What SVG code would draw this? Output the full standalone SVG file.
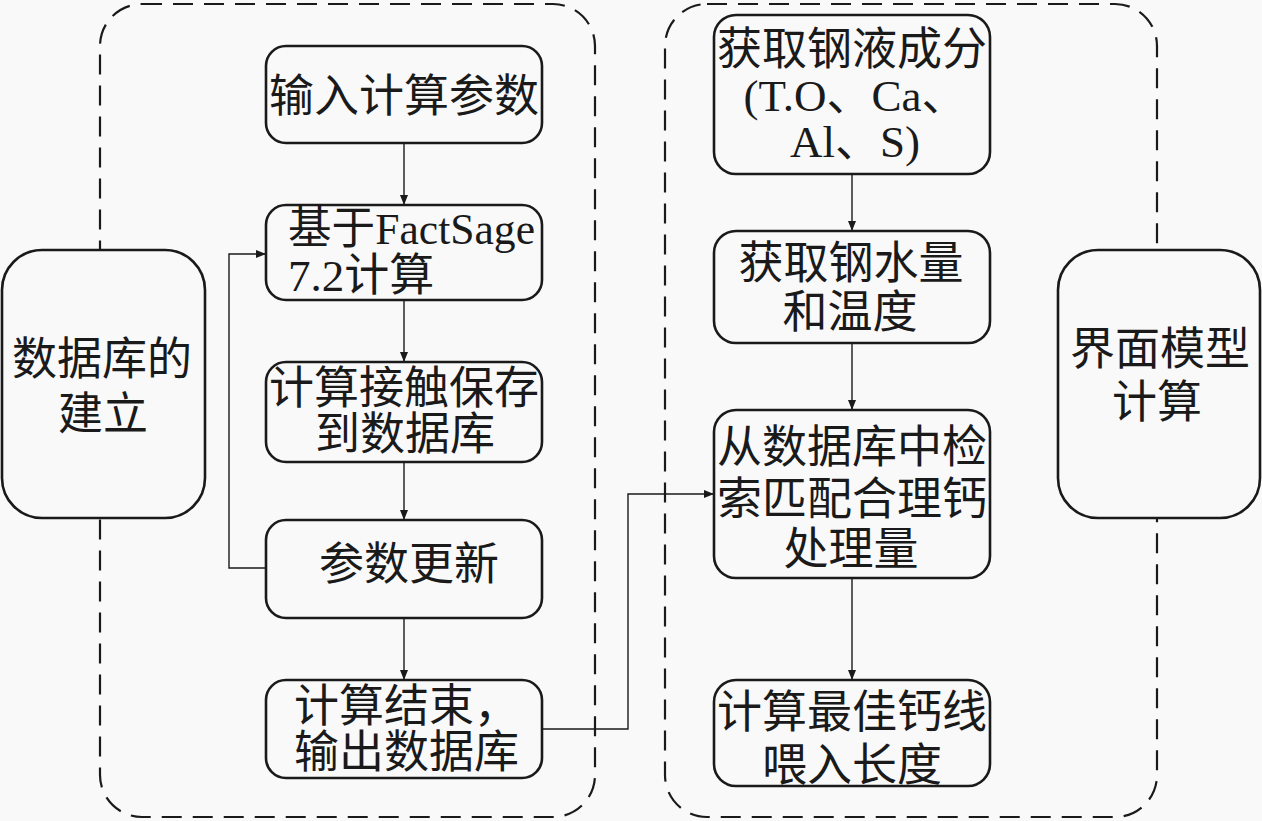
<svg xmlns="http://www.w3.org/2000/svg" width="1262" height="821" viewBox="0 0 1262 821">
<defs>
<style>
.bg{fill:#f9f9f9}
.cont{fill:none;stroke:#1a1a1a;stroke-width:2.2;stroke-dasharray:20 11}
.box{fill:#f9f9f9;stroke:#1a1a1a;stroke-width:2.6}
.conn{fill:none;stroke:#1a1a1a;stroke-width:1.4}
text{font-family:"Liberation Serif","Noto Sans CJK SC",serif;font-size:45px;fill:#1a1a1a}
.m{text-anchor:middle}
</style>
<marker id="arr" viewBox="0 0 10 10" refX="10" refY="5" markerWidth="10" markerHeight="10" markerUnits="userSpaceOnUse" orient="auto">
<path d="M0,1 L10,5 L0,9 Z" fill="#1a1a1a"/>
</marker>
</defs>
<rect class="bg" x="0" y="0" width="1262" height="821"/>
<g id="containers">
<rect class="cont" x="100" y="4" width="495" height="813" rx="42"/>
<rect class="cont" x="665" y="4" width="492" height="813" rx="42"/>
</g>
<g id="connectors">
<line class="conn" x1="404" y1="143" x2="404" y2="205" marker-end="url(#arr)"/>
<line class="conn" x1="404" y1="300" x2="404" y2="362" marker-end="url(#arr)"/>
<line class="conn" x1="404" y1="462" x2="404" y2="520" marker-end="url(#arr)"/>
<line class="conn" x1="404" y1="618" x2="404" y2="680" marker-end="url(#arr)"/>
<polyline class="conn" points="266,568 229,568 229,254 266,254" marker-end="url(#arr)"/>
<polyline class="conn" points="542,729 628,729 628,494 714,494" marker-end="url(#arr)"/>
<line class="conn" x1="852" y1="174" x2="852" y2="231" marker-end="url(#arr)"/>
<line class="conn" x1="852" y1="343" x2="852" y2="410" marker-end="url(#arr)"/>
<line class="conn" x1="852" y1="578" x2="852" y2="680" marker-end="url(#arr)"/>
</g>
<g id="n-db">
<rect class="box" x="2" y="250" width="203" height="268" rx="40"/>
<text class="m" x="102" y="375">数据库的</text>
<text class="m" x="103" y="430">建立</text>
</g>
<g id="n-input">
<rect class="box" x="266" y="46" width="276" height="97" rx="20"/>
<text class="m" x="404" y="112">输入计算参数</text>
</g>
<g id="n-factsage">
<rect class="box" x="266" y="205" width="276" height="95" rx="20"/>
<text x="288" y="244" textLength="247" lengthAdjust="spacingAndGlyphs">基于FactSage</text>
<text x="288" y="291">7.2计算</text>
</g>
<g id="n-save">
<rect class="box" x="266" y="362" width="276" height="100" rx="20"/>
<text class="m" x="404" y="404">计算接触保存</text>
<text class="m" x="405" y="450">到数据库</text>
</g>
<g id="n-update">
<rect class="box" x="266" y="520" width="276" height="98" rx="20"/>
<text class="m" x="409" y="580">参数更新</text>
</g>
<g id="n-end">
<rect class="box" x="266" y="680" width="276" height="98" rx="20"/>
<text x="294" y="722">计算结束，</text>
<text x="294" y="768">输出数据库</text>
</g>
<g id="n-comp">
<rect class="box" x="714" y="15" width="276" height="159" rx="22"/>
<text class="m" x="852" y="65">获取钢液成分</text>
<text class="m" x="855" y="111">(T.O、Ca、</text>
<text class="m" x="855" y="157">Al、S)</text>
</g>
<g id="n-temp">
<rect class="box" x="714" y="231" width="276" height="112" rx="22"/>
<text class="m" x="851" y="279">获取钢水量</text>
<text class="m" x="850" y="328">和温度</text>
</g>
<g id="n-search">
<rect class="box" x="714" y="410" width="276" height="168" rx="22"/>
<text class="m" x="852" y="463">从数据库中检</text>
<text class="m" x="852" y="515">索匹配合理钙</text>
<text class="m" x="851" y="565">处理量</text>
</g>
<g id="n-length">
<rect class="box" x="714" y="680" width="276" height="106" rx="22"/>
<text class="m" x="852" y="728">计算最佳钙线</text>
<text class="m" x="852" y="781">喂入长度</text>
</g>
<g id="n-ui">
<rect class="box" x="1058" y="250" width="202" height="268" rx="40"/>
<text class="m" x="1160" y="365">界面模型</text>
<text class="m" x="1157" y="418">计算</text>
</g>
</svg>
